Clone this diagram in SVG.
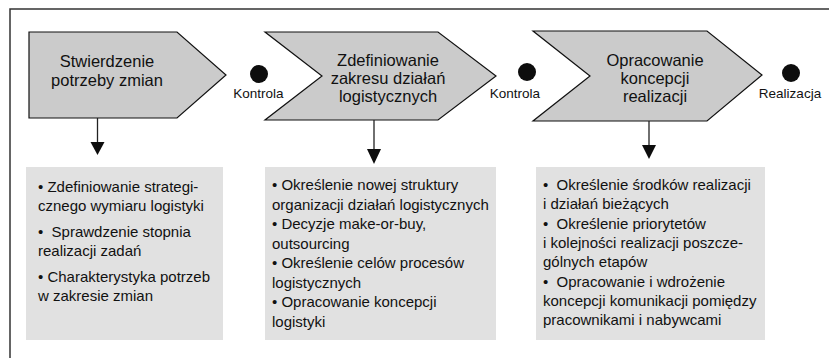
<svg xmlns="http://www.w3.org/2000/svg" width="829" height="358" viewBox="0 0 829 358">
<defs>
<style>
.frame{fill:none;stroke:#333;stroke-width:1.5}
.step{fill:#cbcbcb;stroke:#111;stroke-width:1.2}
.box{fill:#e1e1e1}
.title{font-family:"Liberation Sans",Arial,sans-serif;font-size:16.5px;fill:#111;text-anchor:middle}
.lbl{font-family:"Liberation Sans",Arial,sans-serif;font-size:13.5px;fill:#111;text-anchor:middle}
.item{font-family:"Liberation Sans",Arial,sans-serif;font-size:15px;fill:#111;white-space:pre}
.dot{fill:#0d0d0d}
.conn{stroke:#222;stroke-width:1.3;fill:none}
.head{fill:#0d0d0d}
</style>
</defs>
<rect class="frame" x="10" y="9" width="840" height="370"/>

<g id="step1">
<polygon class="step" points="29,32 177,32 226,75 177,118 29,118"/>
<text class="title" x="107" y="67">Stwierdzenie</text>
<text class="title" x="107" y="86">potrzeby zmian</text>
</g>
<g id="step2">
<polygon class="step" points="265,32 438,32 496,76 438,120 265,120 322,76"/>
<text class="title" x="388" y="66">Zdefiniowanie</text>
<text class="title" x="388" y="84">zakresu działań</text>
<text class="title" x="388" y="102">logistycznych</text>
</g>
<g id="step3">
<polygon class="step" points="533,31 707,31 762,75 707,121 533,121 590,76"/>
<text class="title" x="655" y="66">Opracowanie</text>
<text class="title" x="655" y="84">koncepcji</text>
<text class="title" x="655" y="102">realizacji</text>
</g>

<g id="check1">
<circle class="dot" cx="259" cy="74" r="9"/>
<text class="lbl" x="258.5" y="98">Kontrola</text>
</g>
<g id="check2">
<circle class="dot" cx="527" cy="72" r="9"/>
<text class="lbl" x="515" y="98">Kontrola</text>
</g>
<g id="check3">
<circle class="dot" cx="791" cy="73" r="9"/>
<text class="lbl" x="790" y="98">Realizacja</text>
</g>

<g id="box1">
<rect class="box" x="26" y="167" width="197" height="173"/>
<text class="item" x="38" y="192">• Zdefiniowanie strategi-</text>
<text class="item" x="38" y="211">cznego wymiaru logistyki</text>
<text class="item" x="38" y="237">•  Sprawdzenie stopnia</text>
<text class="item" x="38" y="256">realizacji zadań</text>
<text class="item" x="38" y="282">• Charakterystyka potrzeb</text>
<text class="item" x="38" y="301">w zakresie zmian</text>
</g>
<g id="box2">
<rect class="box" x="265" y="167" width="231" height="173"/>
<text class="item" x="272" y="190">• Określenie nowej struktury</text>
<text class="item" x="272" y="209.5">organizacji działań logistycznych</text>
<text class="item" x="272" y="229">• Decyzje make-or-buy,</text>
<text class="item" x="272" y="248.5">outsourcing</text>
<text class="item" x="272" y="268">• Określenie celów procesów</text>
<text class="item" x="272" y="287.5">logistycznych</text>
<text class="item" x="272" y="307">• Opracowanie koncepcji</text>
<text class="item" x="272" y="326.5">logistyki</text>
</g>
<g id="box3">
<rect class="box" x="536" y="167" width="229" height="173"/>
<text class="item" x="543" y="190">•  Określenie środków realizacji</text>
<text class="item" x="543" y="209">i działań bieżących</text>
<text class="item" x="543" y="228.5">•  Określenie priorytetów</text>
<text class="item" x="543" y="248">i kolejności realizacji poszcze-</text>
<text class="item" x="543" y="267">gólnych etapów</text>
<text class="item" x="543" y="287">•  Opracowanie i wdrożenie</text>
<text class="item" x="543" y="306">koncepcji komunikacji pomiędzy</text>
<text class="item" x="543" y="325">pracownikami i nabywcami</text>
</g>

<g id="connectors">
<line class="conn" x1="97.5" y1="118" x2="97.5" y2="143"/>
<polygon class="head" points="90.5,142 104.5,142 97.5,155"/>
<line class="conn" x1="374" y1="120" x2="374" y2="150"/>
<polygon class="head" points="367,149 381,149 374,164"/>
<line class="conn" x1="649" y1="121" x2="649" y2="146"/>
<polygon class="head" points="642,145 656,145 649,159"/>
</g>
</svg>
